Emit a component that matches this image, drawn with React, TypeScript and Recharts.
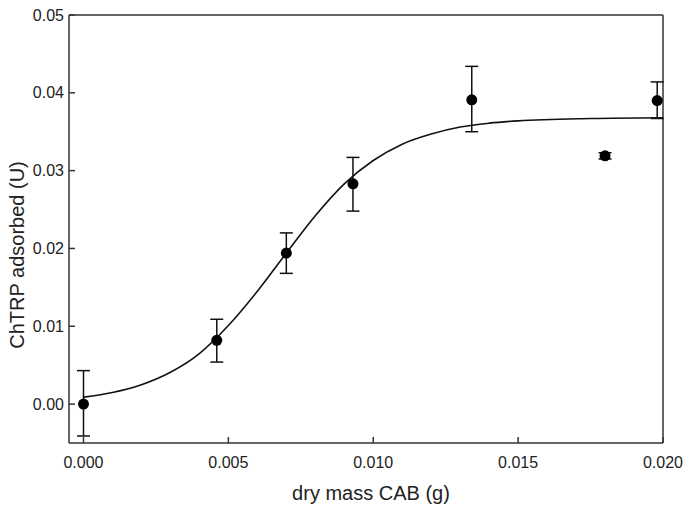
import React from 'react';
import { ComposedChart, Line, Scatter, ErrorBar, XAxis, YAxis, ReferenceLine } from 'recharts';

// measured points (dry mass CAB vs ChTRP adsorbed)
const pointX = [0, 0.0046, 0.007, 0.0093, 0.0134, 0.018, 0.0198];
const pointY = [0.0, 0.0082, 0.0194, 0.0283, 0.0391, 0.0319, 0.039];
const errUp = [0.0043, 0.0027, 0.0026, 0.0034, 0.0043, 0.0004, 0.0024];
const errDown = [0.0041, 0.0028, 0.0026, 0.0035, 0.0041, 0.0004, 0.0023];

// fitted curve
const curveX = [0, 0.001, 0.002, 0.003, 0.004, 0.005, 0.006, 0.007, 0.008, 0.009, 0.01, 0.011, 0.012, 0.013, 0.014, 0.015, 0.0175, 0.02];
const curveY = [0.0009, 0.0015, 0.0025, 0.0041, 0.0065, 0.0101, 0.0145, 0.0194, 0.0242, 0.0283, 0.0313, 0.0334, 0.0347, 0.0356, 0.0361, 0.0364, 0.0367, 0.0368];

const xTicks = [0, 0.005, 0.01, 0.015, 0.02];
const yTicks = [0, 0.01, 0.02, 0.03, 0.04, 0.05];

const points = pointX.map((x, i) => ({ x, y: pointY[i], err: [errDown[i], errUp[i]] }));
const curve = curveX.map((x, i) => ({ x, y: curveY[i] }));

const font = '"Liberation Sans", Arial, sans-serif';
const axisColor = '#333';
const textColor = '#222';

const YTitle = () => (
  <text x={24} y={255} transform="rotate(-90 24 255)" textAnchor="middle" fontSize={20} fontFamily={font} fill={textColor}>
    ChTRP adsorbed (U)
  </text>
);

const XTitle = () => (
  <text x={371} y={500} textAnchor="middle" fontSize={20} fontFamily={font} fill={textColor}>
    dry mass CAB (g)
  </text>
);

const Dot = (props: any) => <circle cx={props.cx} cy={props.cy} r={5.5} fill="#000" />;

export default function App() {
  return (
    <div style={{ position: 'absolute', left: 0, top: 0, background: '#fff' }}>
      <ComposedChart width={685} height={509} margin={{ top: 15, right: 22, left: 0, bottom: 0 }}>
        <XAxis
          dataKey="x"
          type="number"
          domain={[-0.0005, 0.02]}
          ticks={xTicks}
          tickFormatter={(v: number) => v.toFixed(3)}
          height={66}
          tickSize={-6}
          tickMargin={20}
          axisLine={{ stroke: axisColor, strokeWidth: 1.5 }}
          tickLine={{ stroke: axisColor, strokeWidth: 1.5 }}
          tick={{ fontSize: 16, fontFamily: font, fill: textColor }}
          allowDataOverflow
          label={<XTitle />}
        />
        <YAxis
          dataKey="y"
          type="number"
          domain={[-0.005, 0.05]}
          ticks={yTicks}
          tickFormatter={(v: number) => v.toFixed(2)}
          width={69}
          tickSize={-6}
          tickMargin={11}
          axisLine={{ stroke: axisColor, strokeWidth: 1.5 }}
          tickLine={{ stroke: axisColor, strokeWidth: 1.5 }}
          tick={{ fontSize: 16, fontFamily: font, fill: textColor }}
          allowDataOverflow
          label={<YTitle />}
        />
        {/* box frame: top and right edges */}
        <ReferenceLine y={0.05} stroke={axisColor} strokeWidth={1.5} ifOverflow="visible" />
        <ReferenceLine x={0.02} stroke={axisColor} strokeWidth={1.5} ifOverflow="visible" />
        <Line
          data={curve}
          dataKey="y"
          type="monotone"
          stroke="#111"
          strokeWidth={1.6}
          dot={false}
          activeDot={false}
          isAnimationActive={false}
        />
        <Scatter data={points} dataKey="y" shape={<Dot />} isAnimationActive={false}>
          <ErrorBar dataKey="err" direction="y" width={6.5} stroke="#111" strokeWidth={1.5} />
        </Scatter>
      </ComposedChart>
    </div>
  );
}
